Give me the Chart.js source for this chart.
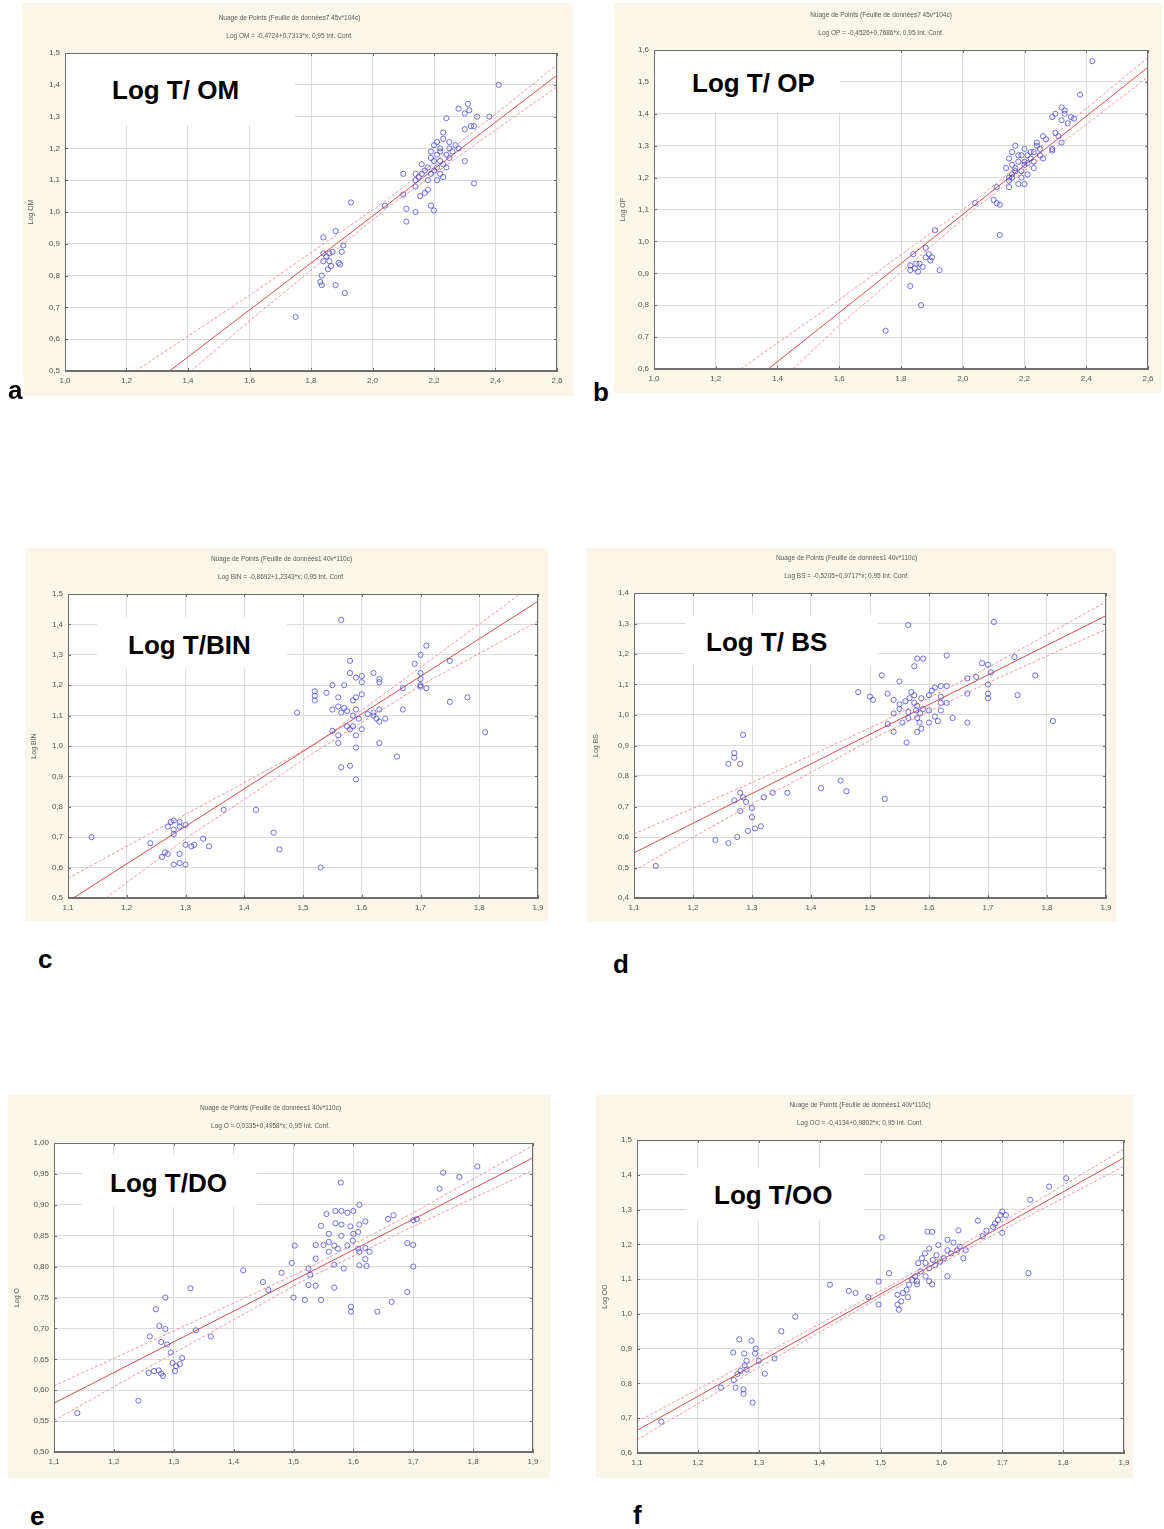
<!DOCTYPE html>
<html>
<head>
<meta charset="utf-8">
<script src="https://cdn.jsdelivr.net/npm/chart.js@4.4.0/dist/chart.umd.min.js"></script>
<style>
body { margin: 0; width: 1164px; height: 1529px; position: relative; background: #fff; overflow: hidden; font-family: "Liberation Sans", Arial, sans-serif; }
.note { position: absolute; background: #fff; }
.label { position: absolute; font-weight: bold; font-size: 26px; line-height: 26px; white-space: nowrap; color: #000; }
.letter { position: absolute; font-weight: bold; font-size: 26px; line-height: 26px; color: #000; background: #fff; padding: 0 2px; }
</style>
</head>
<body>

<script>
// ---- Log T / OM ----
const omPoints = [[2.41,1.40],[2.28,1.325],[2.31,1.34],[2.315,1.32],[2.30,1.31],[2.34,1.30],[2.38,1.30],[2.24,1.295],
  [2.30,1.26],[2.32,1.27],[2.33,1.27],[2.30,1.16],[2.33,1.09],
  [2.23,1.25],[2.20,1.21],[2.22,1.20],[2.25,1.22],[2.26,1.19],[2.24,1.18],[2.21,1.18],[2.19,1.19],[2.23,1.23],[2.21,1.22],[2.25,1.20],[2.27,1.21],[2.22,1.19],
  [2.16,1.15],[2.18,1.14],[2.21,1.14],[2.22,1.12],[2.14,1.12],[2.16,1.12],[2.19,1.12],[2.14,1.10],[2.18,1.10],[2.21,1.10],[2.14,1.08],[2.23,1.11],[2.25,1.17],[2.28,1.20],[2.18,1.07],[2.10,1.12],[2.20,1.16],[2.23,1.15],[2.17,1.13],[2.19,1.17],[2.15,1.11],[2.24,1.14],[2.20,1.13],[2.22,1.16],
  [2.10,1.055],[2.155,1.05],[2.17,1.06],[2.04,1.02],[2.11,1.01],[2.14,1.00],[2.19,1.02],[2.20,1.005],[2.11,0.97],
  [1.93,1.03],[1.88,0.94],[1.84,0.92],[1.905,0.895],[1.90,0.875],
  [1.84,0.87],[1.86,0.87],[1.87,0.875],[1.85,0.86],[1.84,0.845],[1.865,0.83],[1.855,0.82],[1.89,0.84],[1.895,0.835],[1.835,0.80],[1.83,0.78],[1.835,0.77],[1.86,0.845],[1.88,0.77],[1.91,0.745],[1.75,0.67]];
const omFit = [[1.34,0.5],[2.6,1.43]];
const omUpper = [[1.23,0.5],[1.6,0.738],[2.05,1.04],[2.4,1.308],[2.6,1.463]];
const omLower = [[1.41,0.5],[1.6,0.658],[2.05,1.015],[2.4,1.258],[2.6,1.394]];

// ---- Log T / OP ----
const opPoints = [[2.42,1.565],[2.38,1.46],
  [2.29,1.39],[2.30,1.40],[2.32,1.42],[2.33,1.40],[2.35,1.39],[2.36,1.385],[2.32,1.38],[2.34,1.37],[2.33,1.41],
  [2.30,1.34],[2.31,1.33],[2.32,1.31],
  [2.26,1.33],[2.27,1.32],[2.29,1.29],[2.24,1.31],[2.20,1.29],[2.22,1.28],[2.25,1.27],[2.19,1.27],[2.17,1.30],[2.16,1.28],[2.18,1.25],[2.20,1.25],[2.23,1.25],[2.26,1.26],[2.15,1.26],[2.16,1.24],[2.14,1.23],[2.17,1.23],[2.20,1.24],[2.21,1.245],[2.16,1.21],[2.15,1.20],[2.16,1.20],[2.15,1.19],[2.19,1.20],[2.21,1.21],[2.19,1.22],[2.23,1.28],[2.29,1.285],[2.24,1.30],[2.22,1.26],[2.18,1.27],[2.21,1.27],[2.25,1.29],[2.17,1.22],[2.23,1.23],[2.15,1.17],[2.18,1.18],[2.20,1.18],
  [2.11,1.17],[2.04,1.12],[2.10,1.13],[2.11,1.12],[2.12,1.115],[2.12,1.02],
  [1.91,1.035],[1.88,0.98],[1.89,0.96],[1.84,0.96],[1.90,0.95],[1.88,0.95],[1.86,0.93],[1.83,0.925],[1.845,0.915],[1.855,0.905],[1.87,0.92],[1.83,0.91],[1.925,0.91],[1.85,0.93],[1.895,0.94],
  [1.83,0.86],[1.865,0.80],[1.75,0.72]];
const opFit = [[1.37,0.6],[2.6,1.546]];
const opUpper = [[1.28,0.6],[1.6,0.817],[2.05,1.135],[2.4,1.417],[2.6,1.576]];
const opLower = [[1.45,0.6],[1.6,0.737],[2.05,1.111],[2.4,1.367],[2.6,1.516]];

// ---- Log T / BIN ----
const binPoints = [[1.565,1.415],[1.71,1.33],[1.70,1.30],[1.69,1.27],[1.75,1.28],[1.70,1.24],[1.70,1.22],[1.70,1.20],[1.71,1.19],[1.70,1.195],[1.67,1.19],[1.78,1.16],[1.75,1.145],[1.67,1.12],[1.81,1.045],[1.66,0.965],
  [1.58,1.28],[1.58,1.24],[1.59,1.225],[1.62,1.24],[1.63,1.22],[1.60,1.23],[1.60,1.21],[1.63,1.21],[1.55,1.20],[1.57,1.20],[1.52,1.18],[1.54,1.175],[1.52,1.165],[1.52,1.15],[1.56,1.16],[1.59,1.16],[1.60,1.17],[1.585,1.15],[1.49,1.11],
  [1.55,1.12],[1.56,1.13],[1.57,1.125],[1.575,1.115],[1.59,1.12],[1.565,1.11],[1.585,1.10],[1.595,1.09],[1.61,1.105],[1.62,1.10],[1.625,1.09],[1.63,1.08],[1.62,1.11],[1.63,1.12],[1.64,1.09],
  [1.575,1.065],[1.585,1.065],[1.58,1.055],[1.60,1.055],[1.59,1.035],[1.55,1.05],[1.56,1.035],[1.56,1.01],[1.63,1.01],[1.59,0.995],[1.565,0.93],[1.58,0.935],[1.59,0.89],
  [1.365,0.79],[1.42,0.79],[1.45,0.715],[1.46,0.66],[1.53,0.60],[1.14,0.70],[1.24,0.68],
  [1.27,0.735],[1.275,0.75],[1.28,0.755],[1.29,0.75],[1.29,0.735],[1.28,0.725],[1.28,0.71],[1.30,0.74],[1.265,0.65],[1.26,0.635],[1.27,0.645],[1.29,0.645],[1.30,0.675],[1.31,0.67],[1.315,0.675],[1.33,0.695],[1.34,0.67],[1.28,0.61],[1.29,0.615],[1.30,0.61]];
const binFit = [[1.109,0.5],[1.9,1.476]];
const binUpper = [[1.1,0.565],[1.3,0.775],[1.52,1.005],[1.7,1.259],[1.87,1.5]];
const binLower = [[1.165,0.5],[1.3,0.695],[1.52,0.98],[1.7,1.199],[1.9,1.41]];

// ---- Log T / BS ----
const bsPoints = [[1.565,1.295],[1.71,1.305],[1.63,1.195],[1.58,1.185],[1.59,1.185],[1.575,1.16],[1.69,1.17],[1.70,1.165],[1.745,1.19],[1.705,1.14],[1.52,1.13],[1.55,1.11],[1.78,1.13],[1.68,1.125],[1.665,1.12],[1.70,1.10],[1.70,1.07],[1.70,1.055],[1.75,1.065],[1.665,1.07],
  [1.48,1.075],[1.50,1.06],[1.505,1.05],[1.53,1.07],[1.54,1.05],
  [1.57,1.075],[1.575,1.065],[1.567,1.055],[1.56,1.045],[1.575,1.04],[1.587,1.055],[1.60,1.065],[1.61,1.09],[1.62,1.095],[1.63,1.095],[1.605,1.08],[1.62,1.06],[1.62,1.04],[1.63,1.04],[1.58,1.03],[1.59,1.02],[1.578,1.015],[1.55,1.035],[1.55,1.02],[1.565,1.01],[1.585,1.005],[1.60,1.015],[1.62,1.015],[1.61,0.995],[1.565,0.99],[1.54,1.005],[1.53,0.97],[1.555,0.975],[1.58,0.99],[1.584,0.975],[1.60,0.975],[1.615,0.98],[1.587,0.955],[1.58,0.945],[1.54,0.945],[1.64,0.99],[1.665,0.975],[1.81,0.98],[1.562,0.91],
  [1.285,0.935],[1.27,0.875],[1.27,0.86],[1.26,0.84],[1.28,0.84],
  [1.28,0.745],[1.27,0.72],[1.285,0.73],[1.29,0.715],[1.28,0.685],[1.30,0.695],[1.30,0.665],[1.32,0.73],[1.335,0.745],[1.36,0.745],[1.417,0.76],[1.45,0.785],[1.46,0.75],[1.525,0.725],
  [1.293,0.62],[1.305,0.628],[1.315,0.635],[1.275,0.60],[1.238,0.59],[1.26,0.58],[1.137,0.505]];
const bsFit = [[1.1,0.548],[1.9,1.326]];
const bsUpper = [[1.1,0.61],[1.3,0.778],[1.52,0.976],[1.7,1.156],[1.9,1.371]];
const bsLower = [[1.1,0.49],[1.3,0.708],[1.52,0.937],[1.7,1.106],[1.9,1.281]];

// ---- Log T / DO ----
const doPoints = [[1.807,0.962],[1.75,0.952],[1.777,0.945],[1.744,0.926],[1.579,0.936],[1.706,0.877],[1.70,0.875],[1.658,0.877],[1.667,0.883],
  [1.61,0.90],[1.60,0.89],[1.59,0.887],[1.58,0.89],[1.57,0.89],[1.555,0.885],[1.57,0.87],[1.58,0.868],[1.595,0.865],[1.61,0.868],[1.62,0.873],[1.546,0.866],
  [1.559,0.853],[1.58,0.85],[1.60,0.853],[1.608,0.856],[1.599,0.842],
  [1.537,0.835],[1.55,0.835],[1.559,0.84],[1.568,0.834],[1.574,0.829],[1.559,0.824],[1.608,0.829],[1.61,0.824],[1.62,0.83],[1.627,0.824],[1.59,0.834],
  [1.502,0.834],[1.69,0.838],[1.70,0.835],[1.537,0.813],[1.62,0.812],[1.61,0.802],[1.622,0.801],[1.568,0.803],[1.584,0.797],[1.70,0.80],[1.525,0.797],[1.497,0.806],[1.528,0.787],[1.416,0.794],[1.48,0.79],[1.449,0.775],[1.458,0.762],[1.525,0.77],[1.537,0.769],[1.568,0.766],[1.69,0.759],[1.50,0.75],[1.519,0.746],[1.546,0.746],[1.596,0.735],[1.596,0.727],[1.64,0.727],[1.664,0.743],
  [1.328,0.765],[1.286,0.75],[1.27,0.731],[1.276,0.704],[1.286,0.699],[1.26,0.687],[1.337,0.697],[1.362,0.687],[1.279,0.678],[1.289,0.674],[1.295,0.661],[1.298,0.644],[1.304,0.639],[1.314,0.652],[1.31,0.642],[1.302,0.631],[1.258,0.628],[1.267,0.631],[1.275,0.632],[1.279,0.627],[1.282,0.623],[1.241,0.583],[1.139,0.563]];
const doFit = [[1.1,0.579],[1.9,0.976]];
const doUpper = [[1.1,0.607],[1.3,0.696],[1.52,0.795],[1.7,0.887],[1.9,0.996]];
const doLower = [[1.1,0.551],[1.3,0.66],[1.52,0.779],[1.7,0.865],[1.9,0.956]];

// ---- Log T / OO ----
const ooPoints = [[1.805,1.39],[1.777,1.366],[1.746,1.328],[1.70,1.294],[1.697,1.284],[1.706,1.284],[1.693,1.27],[1.688,1.26],[1.685,1.25],[1.66,1.268],[1.628,1.24],[1.70,1.233],[1.674,1.239],[1.668,1.223],[1.577,1.236],[1.585,1.236],[1.502,1.22],
  [1.61,1.213],[1.62,1.205],[1.63,1.193],[1.626,1.183],[1.616,1.174],[1.61,1.183],[1.64,1.183],[1.595,1.198],[1.58,1.188],[1.573,1.174],[1.592,1.169],[1.586,1.155],[1.598,1.15],[1.604,1.16],[1.568,1.16],[1.574,1.146],[1.562,1.146],[1.58,1.131],[1.59,1.14],[1.636,1.16],
  [1.566,1.122],[1.557,1.108],[1.552,1.098],[1.56,1.094],[1.574,1.108],[1.58,1.094],[1.547,1.084],[1.543,1.069],[1.537,1.06],[1.545,1.048],[1.528,1.055],[1.534,1.036],[1.528,1.027],[1.53,1.012],[1.56,1.085],[1.585,1.085],[1.61,1.108],[1.514,1.117],[1.497,1.093],[1.743,1.117],[1.497,1.027],[1.48,1.048],[1.417,1.084],[1.448,1.066],[1.459,1.06],
  [1.36,0.992],[1.337,0.95],[1.268,0.927],[1.288,0.923],[1.258,0.889],[1.276,0.886],[1.295,0.9],[1.294,0.886],[1.28,0.865],[1.277,0.852],[1.30,0.865],[1.326,0.872],[1.27,0.836],[1.28,0.84],[1.265,0.827],[1.31,0.828],[1.259,0.81],[1.262,0.788],[1.275,0.783],[1.275,0.77],[1.238,0.788],[1.29,0.745],[1.14,0.69]];
const ooFit = [[1.1,0.665],[1.9,1.449]];
const ooUpper = [[1.1,0.69],[1.3,0.876],[1.52,1.085],[1.7,1.265],[1.9,1.474]];
const ooLower = [[1.1,0.638],[1.3,0.846],[1.52,1.069],[1.7,1.241],[1.9,1.425]];

// axis ranges [min, max, step]
const ticksWide = [1.0, 2.6, 0.2];
const ticksNarrow = [1.1, 1.9, 0.1];

const panels = [
  { points: omPoints, fit: omFit, upper: omUpper, lower: omLower, x: ticksWide, y: [0.5, 1.5, 0.1], digits: 1,
    title: 'Nuage de Points (Feuille de données7 45v*104c)', sub: 'Log OM = -0,4724+0,7313*x; 0,95 Int. Conf.', yTitle: 'Log OM',
    box: [22, 3, 573, 396], plot: [65, 53, 557, 371] },
  { points: opPoints, fit: opFit, upper: opUpper, lower: opLower, x: ticksWide, y: [0.6, 1.6, 0.1], digits: 1,
    title: 'Nuage de Points (Feuille de données7 45v*104c)', sub: 'Log OP = -0,4526+0,7686*x; 0,95 Int. Conf.', yTitle: 'Log OP',
    box: [614, 3, 1162, 393], plot: [654, 50, 1148, 369] },
  { points: binPoints, fit: binFit, upper: binUpper, lower: binLower, x: ticksNarrow, y: [0.5, 1.5, 0.1], digits: 1,
    title: 'Nuage de Points (Feuille de données1 40v*110c)', sub: 'Log BIN = -0,8692+1,2343*x; 0,95 Int. Conf.', yTitle: 'Log BIN',
    box: [25, 548, 548, 921], plot: [68, 594, 538, 898] },
  { points: bsPoints, fit: bsFit, upper: bsUpper, lower: bsLower, x: ticksNarrow, y: [0.4, 1.4, 0.1], digits: 1,
    title: 'Nuage de Points (Feuille de données1 40v*110c)', sub: 'Log BS = -0,5205+0,9717*x; 0,95 Int. Conf.', yTitle: 'Log BS',
    box: [587, 548, 1116, 922], plot: [634, 593, 1106, 898] },
  { points: doPoints, fit: doFit, upper: doUpper, lower: doLower, x: ticksNarrow, y: [0.5, 1.0, 0.05], digits: 2,
    title: 'Nuage de Points (Feuille de données1 40v*110c)', sub: 'Log O = 0,0335+0,4958*x; 0,95 Int. Conf.', yTitle: 'Log O',
    box: [8, 1095, 550, 1478], plot: [54, 1143, 533, 1452] },
  { points: ooPoints, fit: ooFit, upper: ooUpper, lower: ooLower, x: ticksNarrow, y: [0.6, 1.5, 0.1], digits: 1,
    title: 'Nuage de Points (Feuille de données1 40v*110c)', sub: 'Log OO = -0,4134+0,9802*x; 0,95 Int. Conf.', yTitle: 'Log OO',
    box: [596, 1095, 1133, 1478], plot: [637, 1140, 1124, 1453] }
];

Chart.defaults.font.family = '"Liberation Sans", Arial, sans-serif';

// white plot area + dark frame with small inner ticks
const framePlugin = {
  id: 'frame',
  beforeDraw(chart) {
    const { ctx, chartArea: a } = chart;
    ctx.save();
    ctx.fillStyle = '#fff';
    ctx.fillRect(a.left, a.top, a.right - a.left, a.bottom - a.top);
    ctx.restore();
  },
  afterDraw(chart) {
    const { ctx, chartArea: a, scales } = chart;
    ctx.save();
    ctx.strokeStyle = '#6e6e6e';
    ctx.lineWidth = 1;
    ctx.strokeRect(Math.round(a.left) + 0.5, Math.round(a.top) + 0.5, Math.round(a.right - a.left) - 1, Math.round(a.bottom - a.top) - 1);
    ctx.beginPath();
    scales.x.ticks.forEach(t => {
      const px = Math.round(scales.x.getPixelForValue(t.value)) + 0.5;
      ctx.moveTo(px, a.top); ctx.lineTo(px, a.top + 3);
      ctx.moveTo(px, a.bottom); ctx.lineTo(px, a.bottom - 3);
    });
    scales.y.ticks.forEach(t => {
      const py = Math.round(scales.y.getPixelForValue(t.value)) + 0.5;
      ctx.moveTo(a.left, py); ctx.lineTo(a.left + 3, py);
      ctx.moveTo(a.right, py); ctx.lineTo(a.right - 3, py);
    });
    ctx.stroke();
    ctx.restore();
  }
};

function toXY(arr) {
  return arr.map(p => ({ x: p[0], y: p[1] }));
}

function makeChart(p) {
  const [bl, bt, br, bb] = p.box;
  const [pl, pt, pr, pb] = p.plot;
  const canvas = document.createElement('canvas');
  canvas.width = br - bl;
  canvas.height = bb - bt;
  canvas.style.cssText = `position:absolute;left:${bl}px;top:${bt}px;background:#faf6ea;`;
  document.body.appendChild(canvas);

  const fmtX = v => Number(v).toFixed(1).replace('.', ',');
  const fmtY = v => Number(v).toFixed(p.digits).replace('.', ',');
  const lineSet = (data, color, width, dash) => ({
    data: toXY(data), showLine: true, pointRadius: 0, pointHoverRadius: 0,
    borderColor: color, borderWidth: width, borderDash: dash, fill: false
  });

  // title 7.8 + 10, subtitle 7.8 + 13
  const titlesHeight = 38.6;

  new Chart(canvas, {
    type: 'scatter',
    data: {
      datasets: [
        { data: toXY(p.points), pointStyle: 'circle', pointRadius: 2.6, pointHoverRadius: 2.6,
          borderColor: 'rgba(70,70,215,0.85)', backgroundColor: 'rgba(0,0,0,0)', borderWidth: 0.9 },
        lineSet(p.fit, '#d94c4c', 1, []),
        lineSet(p.upper, '#e38080', 0.8, [3, 2]),
        lineSet(p.lower, '#e38080', 0.8, [3, 2])
      ]
    },
    options: {
      responsive: false,
      animation: false,
      events: [],
      layout: { padding: { left: 0, right: br - pr, top: pt - bt - titlesHeight, bottom: 0 } },
      plugins: {
        legend: { display: false },
        tooltip: { enabled: false },
        title: { display: true, text: p.title, color: '#5a5a5a', font: { size: 6.5, weight: 'normal' }, padding: { top: 0, bottom: 10 } },
        subtitle: { display: true, text: p.sub, color: '#5a5a5a', font: { size: 6.5 }, padding: { top: 0, bottom: 13 } }
      },
      scales: {
        x: {
          type: 'linear', min: p.x[0], max: p.x[1],
          ticks: { stepSize: p.x[2], callback: fmtX, color: '#555', font: { size: 8 }, padding: 5, maxRotation: 0, autoSkip: false },
          grid: { color: '#dcdcdc', drawTicks: false },
          border: { color: '#6e6e6e' },
          afterFit: s => { s.height = bb - pb; s.paddingLeft = 0; s.paddingRight = 0; }
        },
        y: {
          type: 'linear', min: p.y[0], max: p.y[1],
          ticks: { stepSize: p.y[2], callback: fmtY, color: '#555', font: { size: 8 }, padding: 5, autoSkip: false },
          grid: { color: '#dcdcdc', drawTicks: false },
          border: { color: '#6e6e6e' },
          title: { display: true, text: p.yTitle, color: '#5a5a5a', font: { size: 7 }, padding: { top: 5, bottom: 0 } },
          afterFit: s => { s.width = pl - bl; s.paddingTop = 0; s.paddingBottom = 0; }
        }
      }
    },
    plugins: [framePlugin]
  });
}

panels.forEach(makeChart);
</script>

<!-- white boxes with bold panel labels -->
<div class="note" style="left:66px;top:54px;width:229px;height:71px;"></div>
<div class="label" style="left:112px;top:77px;">Log T/ OM</div>
<div class="note" style="left:655px;top:51px;width:185px;height:61px;"></div>
<div class="label" style="left:692px;top:70px;">Log T/ OP</div>
<div class="note" style="left:97px;top:617px;width:190px;height:51px;"></div>
<div class="label" style="left:128px;top:632px;">Log T/BIN</div>
<div class="note" style="left:685px;top:615px;width:192px;height:50px;"></div>
<div class="label" style="left:706px;top:629px;">Log T/ BS</div>
<div class="note" style="left:82px;top:1155px;width:175px;height:52px;"></div>
<div class="label" style="left:110px;top:1170px;">Log T/DO</div>
<div class="note" style="left:686px;top:1168px;width:178px;height:52px;"></div>
<div class="label" style="left:714px;top:1182px;">Log T/OO</div>

<div class="letter" style="left:6px;top:377px;">a</div>
<div class="letter" style="left:591px;top:379px;">b</div>
<div class="letter" style="left:36px;top:946px;">c</div>
<div class="letter" style="left:611px;top:951px;">d</div>
<div class="letter" style="left:28px;top:1503px;">e</div>
<div class="letter" style="left:631px;top:1502px;">f</div>

</body>
</html>
